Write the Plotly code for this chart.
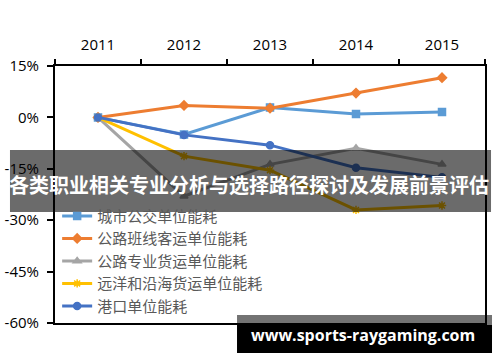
import plotly.graph_objects as go

years = ["2011", "2012", "2013", "2014", "2015"]
bus = [0, -5.0, 2.9, 1.0, 1.6]
road_passenger = [0, 3.5, 2.7, 7.1, 11.6]
road_freight = [0, -23.0, -13.7, -9.0, -13.7]
ocean_freight = [0, -11.3, -15.4, -27.0, -25.7]
port = [0, -5.1, -8.1, -14.7, -17.5]

series_names = ["城市公交单位能耗", "公路班线客运单位能耗", "公路专业货运单位能耗", "远洋和沿海货运单位能耗", "港口单位能耗"]
series_values = [bus, road_passenger, road_freight, ocean_freight, port]
colors = ["#5B9BD5", "#ED7D31", "#A5A5A5", "#FFC000", "#4472C4"]
symbols = ["square", "diamond", "triangle-up", "asterisk-open", "circle"]
y_ticks = [15, 0, -15, -30, -45, -60]
y_tick_labels = ["15%", "0%", "-15%", "-30%", "-45%", "-60%"]

title_text = "各类职业相关专业分析与选择路径探讨及发展前景评估"
watermark = "www.sports-raygaming.com"

fig = go.Figure()
for name, vals, c, s in zip(series_names, series_values, colors, symbols):
    fig.add_trace(go.Scatter(
        x=years, y=vals, name=name, mode="lines+markers",
        line=dict(color=c, width=3),
        marker=dict(symbol=s, size=7, color=c, line=dict(color=c, width=1.5)),
    ))

fig.update_layout(
    width=500, height=362,
    margin=dict(l=55, r=15, t=66, b=39, autoexpand=False),
    paper_bgcolor="white", plot_bgcolor="white",
    showlegend=True,
    legend=dict(x=0.005, y=0.48, xanchor="left", yanchor="top",
                bgcolor="rgba(0,0,0,0)", font=dict(family="Noto Sans CJK SC", size=15, color="#595959"),
                tracegroupgap=0, itemwidth=30),
    font=dict(family="Open Sans", color="#000"),
)
fig.update_xaxes(
    type="category", side="top", range=[-0.5, 4.5], automargin=False,
    tickson="boundaries", ticks="outside", ticklen=5, tickwidth=2, tickcolor="black",
    showline=True, linecolor="black", linewidth=2, mirror=True, ticklabelstandoff=8,
    showgrid=False, tickfont=dict(size=15, family="Open Sans", color="black"),
)
fig.update_yaxes(
    range=[-60, 15], tickvals=y_ticks, ticktext=y_tick_labels, automargin=False,
    ticks="outside", ticklen=6, tickwidth=2, tickcolor="black", ticklabelstandoff=5,
    showline=True, linecolor="black", linewidth=2, mirror=True,
    showgrid=False, zeroline=False, tickfont=dict(size=15, family="Open Sans", color="black"),
)

fig.add_shape(type="rect", xref="paper", yref="paper", x0=-0.1047, x1=1.014, y0=0.4319, y1=0.6732,
              fillcolor="rgba(0,0,0,0.58)", line=dict(width=0), layer="above")
fig.add_annotation(text=title_text, xref="paper", yref="paper", x=0.451, y=0.537,
                   xanchor="center", yanchor="middle",
                   showarrow=False, font=dict(family="Noto Sans CJK SC", size=20, color="white", weight="bold"))
fig.add_shape(type="rect", xref="paper", yref="paper", x0=0.4233, x1=1.0163, y0=-0.0078, y1=0.0311,
              fillcolor="rgba(0,0,0,0.55)", line=dict(width=0), layer="above")
fig.add_shape(type="rect", xref="paper", yref="paper", x0=0.4233, x1=1.0163, y0=-0.1167, y1=-0.0078,
              fillcolor="black", line=dict(width=0), layer="above")
fig.add_annotation(text=watermark, xref="paper", yref="paper", x=0.716, y=-0.0467,
                   xanchor="center", yanchor="middle",
                   showarrow=False, font=dict(family="Open Sans", size=16, color="white", weight="bold"))

fig.write_html("out.html")
